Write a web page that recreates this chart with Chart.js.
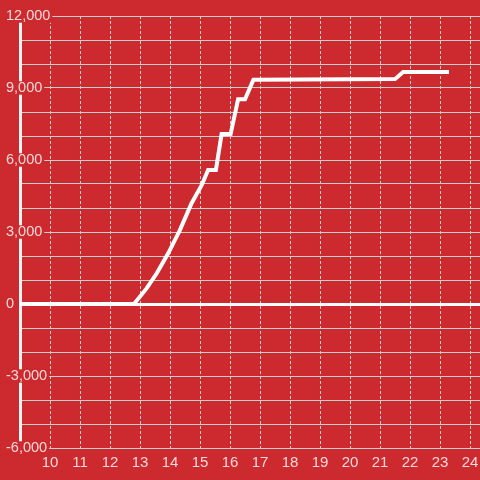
<!DOCTYPE html>
<html>
<head>
<meta charset="utf-8">
<script src="https://cdn.jsdelivr.net/npm/chart.js@4/dist/chart.umd.min.js"></script>
<style>
  html, body { margin: 0; padding: 0; background: #cc2a2e; }
  canvas { display: block; }
</style>
</head>
<body>
<canvas id="c" width="480" height="480"></canvas>
<script>
// Data
const hours = [9, 12.8, 13.22, 13.56, 13.94, 14.33, 14.72, 15.06, 15.27, 15.53, 15.72, 16.02, 16.27, 16.5, 16.78, 21.5, 21.77, 23.3];
const values = [0, 0, 650, 1280, 2110, 3080, 4200, 4960, 5580, 5580, 7080, 7080, 8530, 8530, 9340, 9370, 9670, 9670];
const xTickValues = [10, 11, 12, 13, 14, 15, 16, 17, 18, 19, 20, 21, 22, 23, 24];
const yLabelStep = 3000;

const BG = '#cc2a2e';
const LABEL = 'rgba(255,255,255,0.82)';
const GRID = '#cfcfcf';

const points = hours.map((h, i) => ({ x: h, y: values[i] }));

new Chart(document.getElementById('c'), {
  type: 'line',
  data: {
    datasets: [{
      data: points,
      borderColor: '#ffffff',
      borderWidth: 4,
      pointRadius: 0,
      tension: 0,
      fill: false
    }]
  },
  options: {
    responsive: false,
    animation: false,
    layout: { padding: { left: 20, top: 16, right: 0, bottom: 0 } },
    plugins: { legend: { display: false }, tooltip: { enabled: false } },
    scales: {
      x: {
        type: 'linear',
        min: 9,
        max: 24.3333,
        afterBuildTicks: (s) => { s.ticks = xTickValues.map(v => ({ value: v })); },
        afterFit: (s) => { s.height = 32; s.paddingLeft = 0; s.paddingRight = 0; },
        grid: { color: GRID, lineWidth: 1, drawTicks: false },
        border: { display: false, dash: [3, 2] },
        ticks: {
          color: LABEL,
          font: { family: 'Liberation Sans', size: 15 },
          padding: 6,
          maxRotation: 0,
          autoSkip: false
        }
      },
      y: {
        min: -6000,
        max: 12000,
        afterFit: (s) => { s.width = 0; s.paddingTop = 0; s.paddingBottom = 0; },
        border: { display: true, color: '#f4f4f4', width: 3 },
        grid: {
          drawTicks: false,
          color: (c) => (c.tick && c.tick.value === 0) ? '#ffffff' : GRID,
          lineWidth: (c) => (c.tick && c.tick.value === 0) ? 3 : 1
        },
        ticks: {
          stepSize: 1000,
          autoSkip: false,
          mirror: true,
          crossAlign: 'near',
          padding: -14,
          color: LABEL,
          font: { family: 'Liberation Sans', size: 14.5 },
          callback: (v) => (v % yLabelStep === 0) ? Number(v).toLocaleString('en-US') : '',
          showLabelBackdrop: (c) => c.tick && c.tick.value % yLabelStep === 0,
          backdropColor: BG,
          backdropPadding: { left: 1, right: 2, top: -2, bottom: -2 }
        }
      }
    }
  }
});
</script>
</body>
</html>
